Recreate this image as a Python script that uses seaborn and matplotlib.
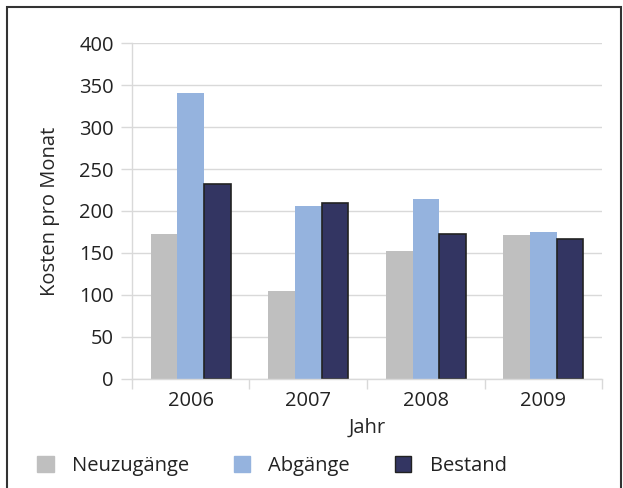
import numpy as np
import pandas as pd
import matplotlib
matplotlib.use("Agg")
import matplotlib.pyplot as plt
import seaborn as sns
from matplotlib.patches import Rectangle

# data
years = ["2006", "2007", "2008", "2009"]
neuzugaenge = [172, 104, 152, 171]
abgaenge = [341, 206, 214, 175]
bestand = [232, 209, 172, 167]
series = ["Neuzugänge", "Abgänge", "Bestand"]
colors = ["#BFBFBF", "#95B3DE", "#333562"]

df = pd.DataFrame({
    "Jahr": years * 3,
    "Kosten": neuzugaenge + abgaenge + bestand,
    "Serie": [s for s in series for _ in years],
})

sns.set_style("white")
plt.rcParams["font.family"] = ["Open Sans", "DejaVu Sans"]
plt.rcParams["text.color"] = "#222222"

grid_c = "#D9D9D9"
fs = 14.5
fig = plt.figure(figsize=(6.23, 4.88), dpi=100)
ax = fig.add_axes([0.2114, 0.224, 0.7554, 0.6873])

sns.barplot(data=df, x="Jahr", y="Kosten", hue="Serie", palette=colors,
            width=0.68, saturation=1, linewidth=0, ax=ax, legend=False)

for bar in ax.containers[2]:
    bar.set_edgecolor("#222222")
    bar.set_linewidth(1.2)

ax.set_ylim(0, 400)
ax.set_xlim(-0.5, 3.5)
ax.set_yticks(np.arange(0, 401, 50))
ax.yaxis.grid(True, color=grid_c, linewidth=1)
ax.set_axisbelow(True)
for side in ["top", "right"]:
    ax.spines[side].set_visible(False)
for side in ["left", "bottom"]:
    ax.spines[side].set_color(grid_c)
    ax.spines[side].set_linewidth(1)

ax.tick_params(axis="y", length=8, color=grid_c, width=1, labelsize=fs,
               labelcolor="#222222", pad=5, left=True)
ax.tick_params(axis="x", which="major", length=0, labelsize=fs,
               labelcolor="#222222", pad=9)
ax.set_xticks([-0.5, 0.5, 1.5, 2.5, 3.5], minor=True)
ax.tick_params(axis="x", which="minor", length=7, color=grid_c, width=1, bottom=True)

ax.set_xlabel("Jahr", fontsize=fs, labelpad=5)
ax.set_ylabel("Kosten pro Monat", fontsize=fs, labelpad=14)

handles = [Rectangle((0, 0), 1, 1, facecolor=c,
                     edgecolor="#222222" if i == 2 else c, linewidth=1)
           for i, c in enumerate(colors)]
fig.legend(handles, series, loc="center left", bbox_to_anchor=(0.031, 0.045),
           ncol=3, frameon=False, fontsize=fs, handlelength=0.8,
           handleheight=0.8, handletextpad=0.9, columnspacing=2.25)

fig.patches.append(Rectangle((0.012, -0.01), 0.985, 0.995, transform=fig.transFigure,
                             fill=False, edgecolor="#333333", linewidth=1.5))

fig.savefig("out.png", dpi=100)
